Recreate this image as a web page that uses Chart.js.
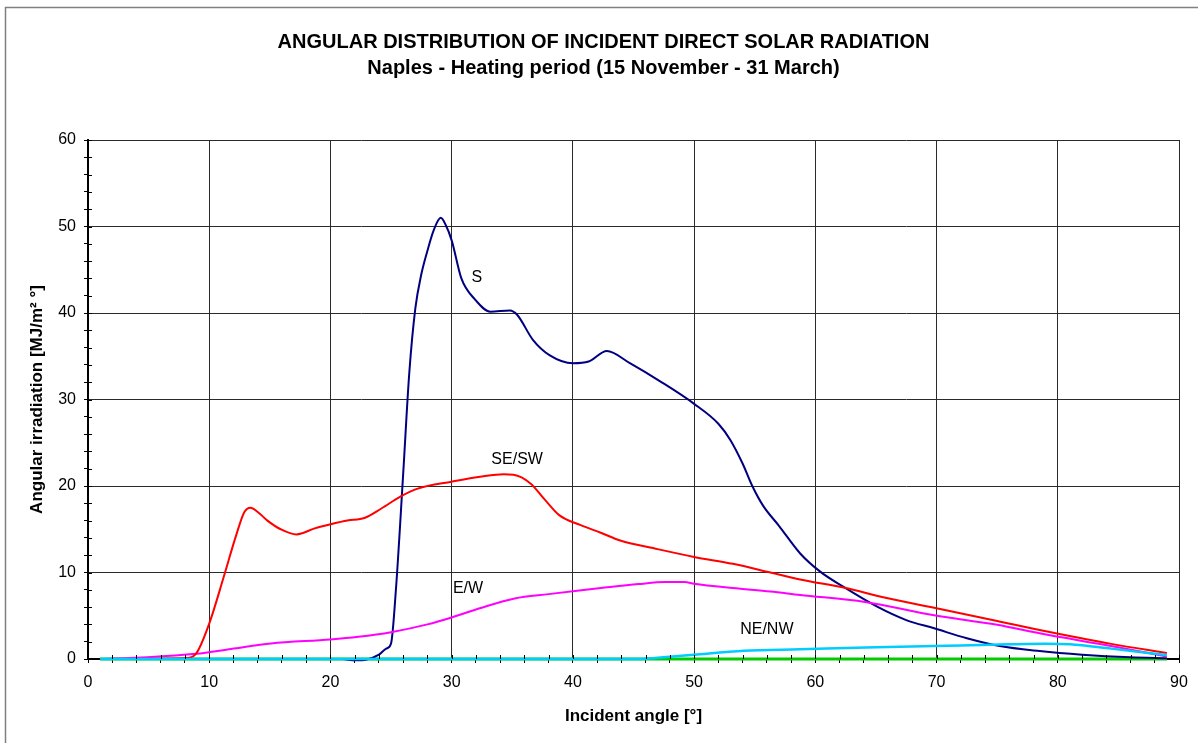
<!DOCTYPE html>
<html>
<head>
<meta charset="utf-8">
<title>Angular distribution of incident direct solar radiation</title>
<script src="https://cdn.jsdelivr.net/npm/chart.js@4.4.1/dist/chart.umd.min.js"></script>
<style>
  html, body { margin: 0; padding: 0; background: #fff; }
  canvas { display: block; }
</style>
</head>
<body>
<canvas id="grafico" width="1198" height="743"></canvas>
<script>
// Irraggiamento angolare [MJ/m² °] per esposizione, Napoli, periodo di riscaldamento
var sAngles  = [1, 21, 22, 23, 24, 24.6, 25, 25.4, 26, 26.5, 27, 27.5, 28, 28.5, 29.1, 29.5, 30, 30.8, 31.9, 33.2,
                34.8, 35.4, 36.7, 38.1, 40, 41.3, 42.8, 44.7, 47.2, 50, 52, 53, 54, 54.8, 55.7, 57, 58.75, 60.4, 62.3, 65.1,
                67.5, 69.8, 72.5, 75.2, 78.5, 82, 86, 89];
var sValues  = [0, 0, -0.15, -0.05, 0.5, 1.2, 1.8, 8, 21.4, 33, 40.5, 44.5, 47.2, 49.5, 51, 50.2, 48.4, 44, 41.6, 40.15,
                40.3, 39.8, 36.9, 35.1, 34.2, 34.4, 35.6, 34.2, 32.1, 29.5, 27.2, 25.3, 22.6, 20, 17.7, 15.4, 12.2, 10.1, 8.36, 6.05,
                4.5, 3.55, 2.4, 1.5, 0.92, 0.5, 0.2, 0.1];

var seAngles = [1, 8, 8.9, 10, 11.2, 12.2, 12.9, 13.4, 14, 14.8, 15.9, 17.2, 18.7, 20.1, 21.4, 22.8, 24.2, 25.8, 27.2, 30,
                32.5, 34.3, 35.1, 36.5, 37.7, 38.9, 40.6, 42.3, 43.9, 47, 50, 53.2, 56.3, 58.75, 62.5, 65.7, 69.8, 75, 78.5, 84.4, 89];
var seValues = [0, 0.1, 0.6, 4.1, 9.5, 14.2, 17, 17.5, 17, 16, 15, 14.4, 15.1, 15.6, 16, 16.3, 17.4, 18.8, 19.7, 20.5,
                21.1, 21.35, 21.3, 20.3, 18.4, 16.6, 15.5, 14.6, 13.7, 12.7, 11.8, 11, 10, 9.2, 8.2, 7.1, 5.93, 4.4, 3.35, 1.75, 0.7];

var ewAngles = [1, 4.9, 8.9, 11.8, 15.1, 20, 22.3, 25, 28, 30, 32.4, 35.2, 38, 40.7, 42.3, 45.4, 47.6, 49.2, 50, 53.2,
                56.3, 58.75, 64.1, 69.8, 75, 78.5, 84.4, 89];
var ewValues = [0, 0.2, 0.6, 1.16, 1.8, 2.25, 2.56, 3.1, 4, 4.8, 5.9, 7, 7.5, 7.95, 8.2, 8.66, 8.9, 8.9, 8.7, 8.2,
                7.8, 7.4, 6.6, 5.05, 3.95, 2.97, 1.5, 0.3];

var neAngles = [1, 45.5, 47, 50, 54.1, 58.75, 65, 69.8, 76, 79, 81, 84.4, 89];
var neValues = [0, 0, 0.15, 0.5, 0.95, 1.12, 1.35, 1.5, 1.7, 1.76, 1.7, 1.2, 0.45];

var nAngles  = [1, 89];
var nValues  = [0, 0];

// nomi delle esposizioni scritti accanto alle curve (angolo, valore)
var seriesNames = ["S", "SE/SW", "E/W", "NE/NW"];
var nameAngles  = [32.07, 35.4, 31.35, 56.0];
var nameLevels  = [44.14, 23.06, 8.15, 3.35];

var FONT = "'Liberation Sans', Arial, sans-serif";

function punti(angoli, valori) {
  return angoli.map(function(a, i) { return { x: a, y: valori[i] }; });
}

function serie(label, angoli, valori, colore, spessore) {
  return {
    label: label,
    data: punti(angoli, valori),
    borderColor: colore,
    backgroundColor: colore,
    borderWidth: spessore,
    pointRadius: 0,
    cubicInterpolationMode: "monotone",
    fill: false,
    clip: false
  };
}

// cornice grigia esterna e sfondo bianco
var cornice = {
  id: "cornice",
  beforeDraw: function(chart) {
    var ctx = chart.ctx;
    ctx.save();
    ctx.fillStyle = "#fff";
    ctx.fillRect(0, 0, chart.width, chart.height);
    ctx.strokeStyle = "#808080";
    ctx.lineWidth = 1.5;
    ctx.strokeRect(5.5, 7.5, chart.width + 20, chart.height + 20);
    ctx.restore();
  }
};

// tacche interne sugli assi (la parte esterna la disegna Chart.js)
var tacche = {
  id: "tacche",
  afterDatasetsDraw: function(chart) {
    var ctx = chart.ctx, area = chart.chartArea;
    var x = chart.scales.x, y = chart.scales.y;
    ctx.save();
    ctx.strokeStyle = "#000";
    ctx.lineWidth = 1;
    ctx.beginPath();
    x.ticks.forEach(function(t) {
      var px = Math.round(x.getPixelForValue(t.value)) + 0.5;
      ctx.moveTo(px, area.bottom);
      ctx.lineTo(px, area.bottom - 4);
    });
    y.ticks.forEach(function(t) {
      var py = Math.round(y.getPixelForValue(t.value)) + 0.5;
      ctx.moveTo(area.left, py);
      ctx.lineTo(area.left + 4, py);
    });
    ctx.stroke();
    ctx.restore();
  }
};

// etichette delle curve
var nomiCurve = {
  id: "nomiCurve",
  afterDatasetsDraw: function(chart) {
    var ctx = chart.ctx;
    var x = chart.scales.x, y = chart.scales.y;
    ctx.save();
    ctx.fillStyle = "#000";
    ctx.font = "16px " + FONT;
    ctx.textAlign = "center";
    ctx.textBaseline = "middle";
    seriesNames.forEach(function(nome, i) {
      ctx.fillText(nome, x.getPixelForValue(nameAngles[i]), y.getPixelForValue(nameLevels[i]));
    });
    ctx.restore();
  }
};

function colorGriglia(c) {
  return c.tick && c.tick.value % 10 === 0 ? "#2a2a2a" : "rgba(0,0,0,0)";
}

new Chart(document.getElementById("grafico").getContext("2d"), {
  type: "line",
  data: {
    datasets: [
      serie("NE/NW", neAngles, neValues, "#00ccff", 2.5),
      serie("SE/SW", seAngles, seValues, "#ff0000", 2),
      serie("E/W", ewAngles, ewValues, "#ff00ff", 2),
      serie("S", sAngles, sValues, "#000080", 2),
      serie("N", nAngles, nValues, "#00cc00", 3)
    ]
  },
  options: {
    responsive: false,
    animation: false,
    devicePixelRatio: 1,
    layout: { padding: { left: 28, right: 19, top: 0, bottom: 0 } },
    plugins: {
      legend: { display: false },
      tooltip: { enabled: false },
      title: {
        display: true,
        text: ["ANGULAR DISTRIBUTION OF INCIDENT DIRECT SOLAR RADIATION",
               "Naples - Heating period (15 November - 31 March)"],
        color: "#000",
        font: { family: FONT, size: 20, weight: "bold", lineHeight: 1.3 },
        padding: { top: 29.5, bottom: 58.5 }
      }
    },
    scales: {
      x: {
        type: "linear",
        min: 0,
        max: 90,
        afterFit: function(s) { s.height = 84; },
        ticks: {
          stepSize: 2,
          autoSkip: false,
          maxRotation: 0,
          padding: 10,
          color: "#000",
          font: { family: FONT, size: 16 },
          callback: function(v) { return v % 10 === 0 ? v : ""; }
        },
        grid: { color: colorGriglia, tickColor: "#000", tickLength: 4, lineWidth: 1 },
        border: { color: "#000", width: 2 },
        title: {
          display: true,
          text: "Incident angle [°]",
          color: "#000",
          font: { family: FONT, size: 17, weight: "bold", lineHeight: 1.2 },
          padding: { top: 0, bottom: 16.5 }
        }
      },
      y: {
        min: 0,
        max: 60,
        afterFit: function(s) { s.width = 60; },
        ticks: {
          stepSize: 2,
          autoSkip: false,
          padding: 8,
          color: "#000",
          font: { family: FONT, size: 16 },
          callback: function(v) { return v % 10 === 0 ? v : ""; }
        },
        grid: { color: colorGriglia, tickColor: "#000", tickLength: 4, lineWidth: 1 },
        border: { color: "#000", width: 2 },
        title: {
          display: true,
          text: "Angular irradiation [MJ/m² °]",
          color: "#000",
          font: { family: FONT, size: 17, weight: "bold", lineHeight: 1 },
          padding: { top: 0.5, bottom: 0 }
        }
      }
    }
  },
  plugins: [cornice, tacche, nomiCurve]
});
</script>
</body>
</html>
